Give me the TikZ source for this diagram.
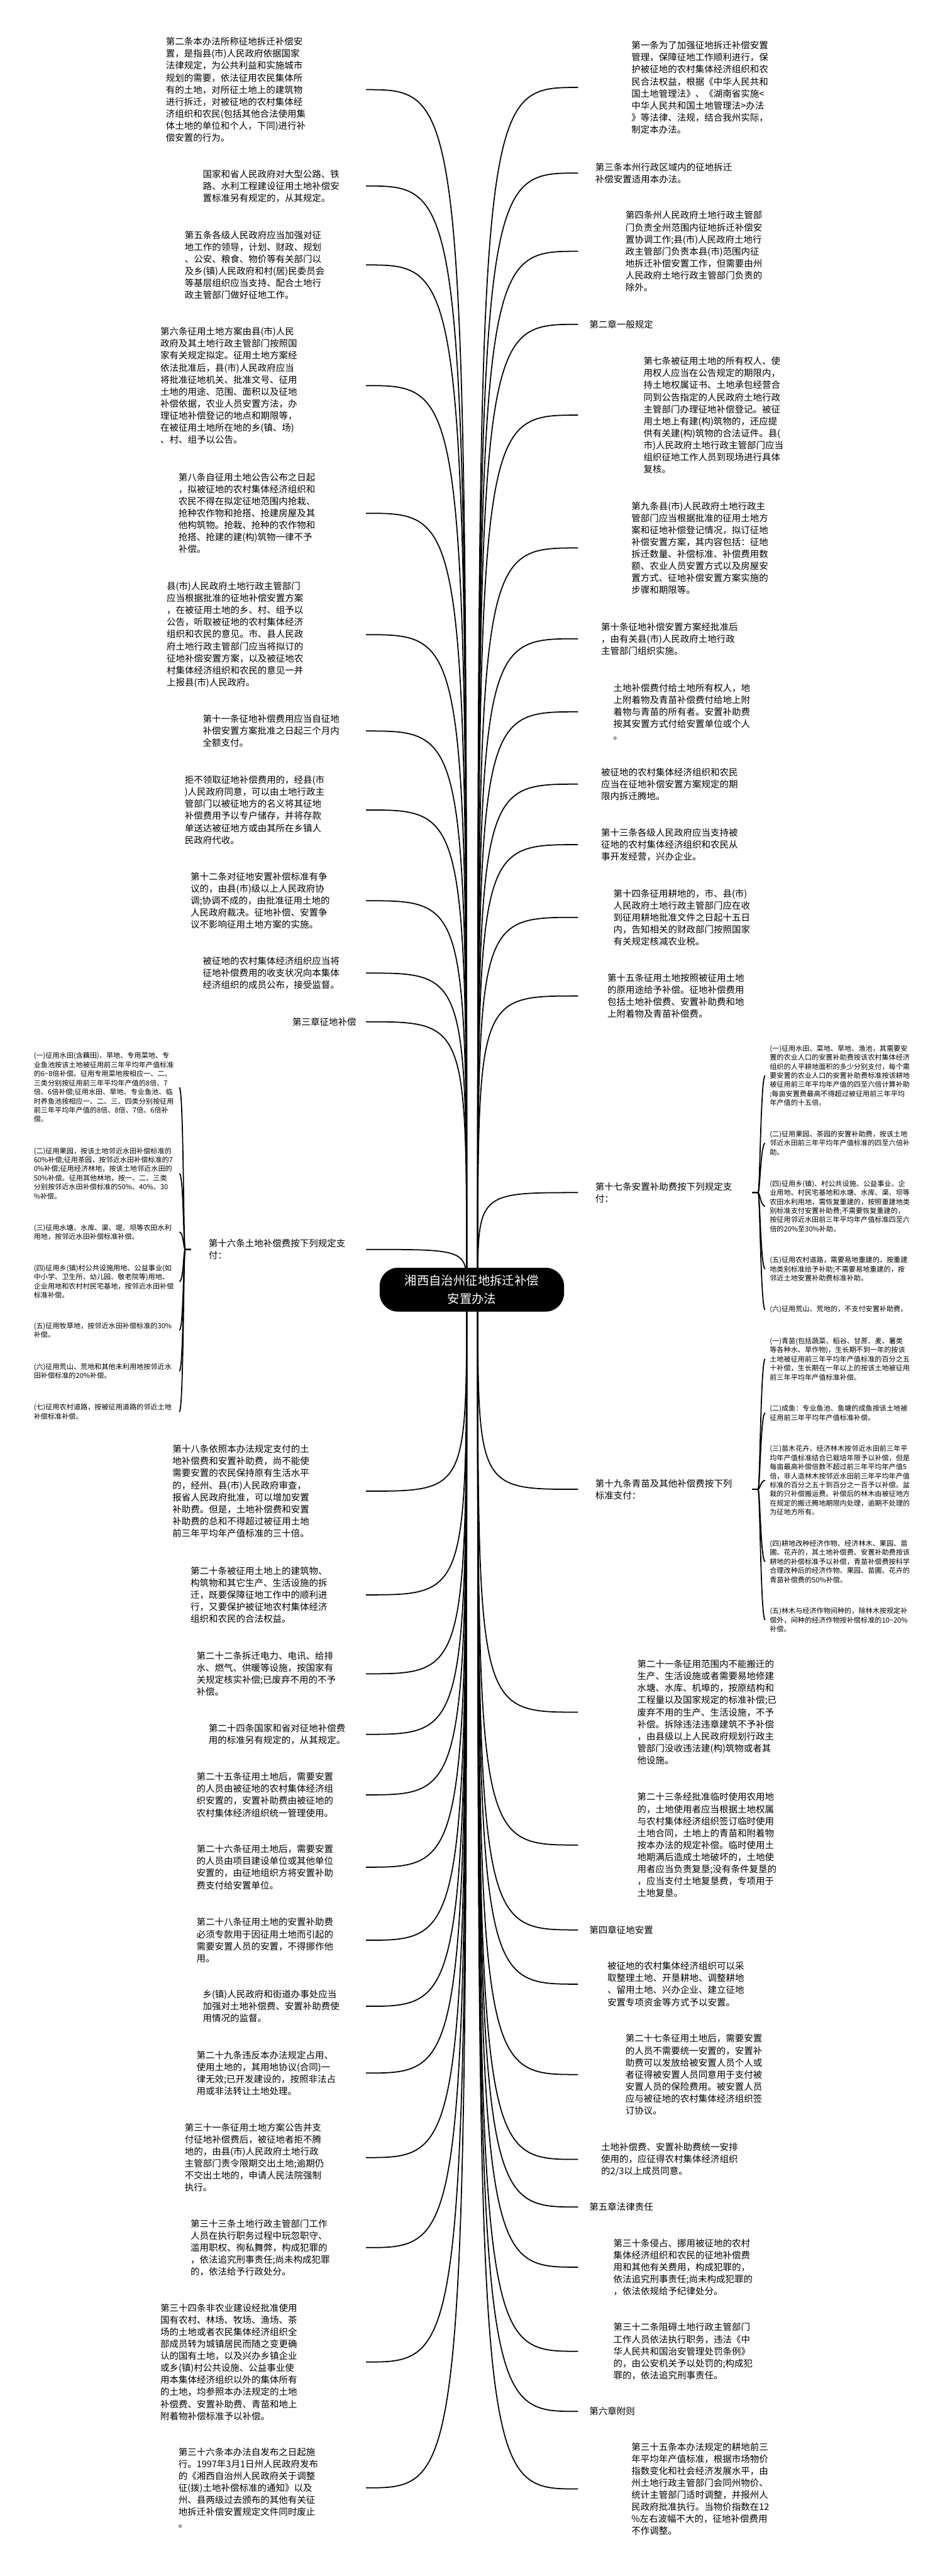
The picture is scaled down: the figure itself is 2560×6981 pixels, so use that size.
\documentclass[tikz,border=0pt]{standalone}
\usepackage{fontspec}
\setmainfont{Noto Sans CJK SC}
\usepackage{tikz}

\begin{document}
\begin{tikzpicture}[
  x=0.1mm,y=-0.1mm,
  leaf/.style={anchor=west,align=left,inner sep=0pt,
               font=\fontsize{7.03pt}{9.25pt}\selectfont},
  item/.style={anchor=west,align=left,inner sep=0pt,
               font=\fontsize{5.4pt}{7pt}\selectfont},
  root/.style={fill=black,text=white,rounded corners=5mm,align=center,
               minimum width=50mm,minimum height=11.9mm,inner sep=0pt,
               font=\fontsize{9.4pt}{13.66pt}\selectfont},
  link/.style={line width=0.3mm,black}
]
\path[use as bounding box,fill=white] (0,0) rectangle (2560,6981);

\coordinate (rl) at (1265,3495);
\coordinate (rr) at (1295,3495);
\coordinate (lend) at (992,0);
\coordinate (rend) at (1567,0);

% left branches
\node[leaf] (l1) at (449,243) {第二条本办法所称征地拆迁补偿安\\置，是指县(市)人民政府依据国家\\法律规定，为公共利益和实施城市\\规划的需要，依法征用农民集体所\\有的土地，对所征土地上的建筑物\\进行拆迁，对被征地的农村集体经\\济组织和农民(包括其他合法使用集\\体土地的单位和个人，下同)进行补\\偿安置的行为。};
\node[leaf] (l2) at (549,504) {国家和省人民政府对大型公路、铁\\路、水利工程建设征用土地补偿安\\置标准另有规定的，从其规定。};
\node[leaf] (l3) at (500,718) {第五条各级人民政府应当加强对征\\地工作的领导，计划、财政、规划\\、公安、粮食、物价等有关部门以\\及乡(镇)人民政府和村(居)民委员会\\等基层组织应当支持、配合土地行\\政主管部门做好征地工作。};
\node[leaf] (l4) at (434,1045) {第六条征用土地方案由县(市)人民\\政府及其土地行政主管部门按照国\\家有关规定拟定。征用土地方案经\\依法批准后，县(市)人民政府应当\\将批准征地机关、批准文号、征用\\土地的用途、范围、面积以及征地\\补偿依据，农业人员安置方法，办\\理征地补偿登记的地点和期限等，\\在被征用土地所在地的乡(镇、场)\\、村、组予以公告。};
\node[leaf] (l5) at (483,1391) {第八条自征用土地公告公布之日起\\，拟被征地的农村集体经济组织和\\农民不得在拟定征地范围内抢栽、\\抢种农作物和抢搭、抢建房屋及其\\他构筑物。抢栽、抢种的农作物和\\抢搭、抢建的建(构)筑物一律不予\\补偿。};
\node[leaf] (l6) at (451,1720) {县(市)人民政府土地行政主管部门\\应当根据批准的征地补偿安置方案\\，在被征用土地的乡、村、组予以\\公告，听取被征地的农村集体经济\\组织和农民的意见。市、县人民政\\府土地行政主管部门应当将拟订的\\征地补偿安置方案，以及被征地农\\村集体经济组织和农民的意见一并\\上报县(市)人民政府。};
\node[leaf] (l7) at (549,1981) {第十一条征地补偿费用应当自征地\\补偿安置方案批准之日起三个月内\\全额支付。};
\node[leaf] (l8) at (500,2195) {拒不领取征地补偿费用的，经县(市\\)人民政府同意，可以由土地行政主\\管部门以被征地方的名义将其征地\\补偿费用予以专户储存，并将存款\\单送达被征地方或由其所在乡镇人\\民政府代收。};
\node[leaf] (l9) at (516,2441) {第十二条对征地安置补偿标准有争\\议的，由县(市)级以上人民政府协\\调;协调不成的，由批准征用土地的\\人民政府裁决。征地补偿、安置争\\议不影响征用土地方案的实施。};
\node[leaf] (l10) at (549,2637) {被征地的农村集体经济组织应当将\\征地补偿费用的收支状况向本集体\\经济组织的成员公布，接受监督。};
\node[leaf] (l11) at (792,2769) {第三章征地补偿};
\node[leaf] (l12) at (565,3386) {第十六条土地补偿费按下列规定支\\付：};
\node[leaf] (l13) at (467,4041) {第十八条依照本办法规定支付的土\\地补偿费和安置补助费，尚不能使\\需要安置的农民保持原有生活水平\\的，经州、县(市)人民政府审查，\\报省人民政府批准，可以增加安置\\补助费。但是，土地补偿费和安置\\补助费的总和不得超过被征用土地\\前三年平均年产值标准的三十倍。};
\node[leaf] (l14) at (516,4322) {第二十条被征用土地上的建筑物、\\构筑物和其它生产、生活设施的拆\\迁，既要保障征地工作中的顺利进\\行，又要保护被征地农村集体经济\\组织和农民的合法权益。};
\node[leaf] (l15) at (532,4536) {第二十二条拆迁电力、电讯、给排\\水、燃气、供暖等设施，按国家有\\关规定核实补偿;已废弃不用的不予\\补偿。};
\node[leaf] (l16) at (565,4700) {第二十四条国家和省对征地补偿费\\用的标准另有规定的，从其规定。};
\node[leaf] (l17) at (532,4864) {第二十五条征用土地后，需要安置\\的人员由被征地的农村集体经济组\\织安置的，安置补助费由被征地的\\农村集体经济组织统一管理使用。};
\node[leaf] (l18) at (532,5060) {第二十六条征用土地后，需要安置\\的人员由项目建设单位或其他单位\\安置的，由征地组织方将安置补助\\费支付给安置单位。};
\node[leaf] (l19) at (532,5258) {第二十八条征用土地的安置补助费\\必须专款用于因征用土地而引起的\\需要安置人员的安置，不得挪作他\\用。};
\node[leaf] (l20) at (549,5437) {乡(镇)人民政府和街道办事处应当\\加强对土地补偿费、安置补助费使\\用情况的监督。};
\node[leaf] (l21) at (532,5618) {第二十九条违反本办法规定占用、\\使用土地的，其用地协议(合同)一\\律无效;已开发建设的，按照非法占\\用或非法转让土地处理。};
\node[leaf] (l22) at (500,5847) {第三十一条征用土地方案公告并支\\付征地补偿费后，被征地者拒不腾\\地的，由县(市)人民政府土地行政\\主管部门责令限期交出土地;逾期仍\\不交出土地的，申请人民法院强制\\执行。};
\node[leaf] (l23) at (516,6091) {第三十三条土地行政主管部门工作\\人员在执行职务过程中玩忽职守、\\滥用职权、徇私舞弊，构成犯罪的\\，依法追究刑事责任;尚未构成犯罪\\的，依法给予行政处分。};
\node[leaf] (l24) at (434,6401) {第三十四条非农业建设经批准使用\\国有农村、林场、牧场、渔场、茶\\场的土地或者农民集体经济组织全\\部成员转为城镇居民而随之变更确\\认的国有土地，以及兴办乡镇企业\\或乡(镇)村公共设施、公益事业使\\用本集体经济组织以外的集体所有\\的土地，均参照本办法规定的土地\\补偿费、安置补助费、青苗和地上\\附着物补偿标准予以补偿。};
\node[leaf] (l25) at (483,6742) {第三十六条本办法自发布之日起施\\行。1997年3月1日州人民政府发布\\的《湘西自治州人民政府关于调整\\征(拨)土地补偿标准的通知》以及\\州、县两级过去颁布的其他有关征\\地拆迁补偿安置规定文件同时废止\\。};

% items of article 16
\node[item] (a1) at (91,2947) {(一)征用水田(含藕田)、旱地、专用菜地、专\\业鱼池按该土地被征用前三年平均年产值标准\\的6\textasciitilde8倍补偿。征用专用菜地按相应一、二、\\三类分别按征用前三年平均年产值的8倍、7\\倍、6倍补偿;征用水田、旱地、专业鱼池、临\\时养鱼池按相应一、二、三、四类分别按征用\\前三年平均年产值的8倍、8倍、7倍、6倍补\\偿。};
\node[item] (a2) at (91,3180) {(二)征用果园，按该土地邻近水田补偿标准的\\60\%补偿;征用茶园，按邻近水田补偿标准的7\\0\%补偿;征用经济林地，按该土地邻近水田的\\50\%补偿。征用其他林地，按一、二、三类\\分别按邻近水田补偿标准的50\%、40\%、30\\\%补偿。};
\node[item] (a3) at (91,3339) {(三)征用水塘、水库、渠、堤、坝等农田水利\\用地，按邻近水田补偿标准补偿。};
\node[item] (a4) at (91,3473) {(四)征用乡(镇)村公共设施用地、公益事业(如\\中小学、卫生所、幼儿园、敬老院等)用地、\\企业用地和农村村民宅基地，按邻近水田补偿\\标准补偿。};
\node[item] (a5) at (91,3605) {(五)征用牧草地，按邻近水田补偿标准的30\%\\补偿。};
\node[item] (a6) at (91,3716) {(六)征用荒山、荒地和其他未利用地按邻近水\\田补偿标准的20\%补偿。};
\node[item] (a7) at (91,3826) {(七)征用农村道路，按被征用道路的邻近土地\\补偿标准补偿。};

% right branches
\node[leaf] (r1) at (1711,237) {第一条为了加强征地拆迁补偿安置\\管理，保障征地工作顺利进行，保\\护被征地的农村集体经济组织和农\\民合法权益，根据《中华人民共和\\国土地管理法》、《湖南省实施<\\中华人民共和国土地管理法>办法\\》等法律、法规，结合我州实际，\\制定本办法。};
\node[leaf] (r2) at (1613,469) {第三条本州行政区域内的征地拆迁\\补偿安置适用本办法。};
\node[leaf] (r3) at (1695,681) {第四条州人民政府土地行政主管部\\门负责全州范围内征地拆迁补偿安\\置协调工作;县(市)人民政府土地行\\政主管部门负责本县(市)范围内征\\地拆迁补偿安置工作，但需要由州\\人民政府土地行政主管部门负责的\\除外。};
\node[leaf] (r4) at (1597,879) {第二章一般规定};
\node[leaf] (r5) at (1744,1125) {第七条被征用土地的所有权人、使\\用权人应当在公告规定的期限内，\\持土地权属证书、土地承包经营合\\同到公告指定的人民政府土地行政\\主管部门办理征地补偿登记。被征\\用土地上有建(构)筑物的，还应提\\供有关建(构)筑物的合法证件。县(\\市)人民政府土地行政主管部门应当\\组织征地工作人员到现场进行具体\\复核。};
\node[leaf] (r6) at (1711,1485) {第九条县(市)人民政府土地行政主\\管部门应当根据批准的征用土地方\\案和征地补偿登记情况，拟订征地\\补偿安置方案，其内容包括：征地\\拆迁数量、补偿标准、补偿费用数\\额、农业人员安置方式以及房屋安\\置方式、征地补偿安置方案实施的\\步骤和期限等。};
\node[leaf] (r7) at (1629,1731) {第十条征地补偿安置方案经批准后\\，由有关县(市)人民政府土地行政\\主管部门组织实施。};
\node[leaf] (r8) at (1662,1929) {土地补偿费付给土地所有权人，地\\上附着物及青苗补偿费付给地上附\\着物与青苗的所有者。安置补助费\\按其安置方式付给安置单位或个人\\。};
\node[leaf] (r9) at (1629,2125) {被征地的农村集体经济组织和农民\\应当在征地补偿安置方案规定的期\\限内拆迁腾地。};
\node[leaf] (r10) at (1629,2289) {第十三条各级人民政府应当支持被\\征地的农村集体经济组织和农民从\\事开发经营，兴办企业。};
\node[leaf] (r11) at (1662,2486) {第十四条征用耕地的，市、县(市)\\人民政府土地行政主管部门应在收\\到征用耕地批准文件之日起十五日\\内，告知相关的财政部门按照国家\\有关规定核减农业税。};
\node[leaf] (r12) at (1646,2699) {第十五条征用土地按照被征用土地\\的原用途给予补偿。征地补偿费用\\包括土地补偿费、安置补助费和地\\上附着物及青苗补偿费。};
\node[leaf] (r13) at (1613,3232) {第十七条安置补助费按下列规定支\\付：};
\node[leaf] (r14) at (1613,4036) {第十九条青苗及其他补偿费按下列\\标准支付：};
\node[leaf] (r15) at (1727,4640) {第二十一条征用范围内不能搬迁的\\生产、生活设施或者需要易地修建\\水塘、水库、机埠的，按原结构和\\工程量以及国家规定的标准补偿;已\\废弃不用的生产、生活设施，不予\\补偿。拆除违法违章建筑不予补偿\\，由县级以上人民政府规划行政主\\管部门没收违法建(构)筑物或者其\\他设施。};
\node[leaf] (r16) at (1727,5000) {第二十三条经批准临时使用农用地\\的，土地使用者应当根据土地权属\\与农村集体经济组织签订临时使用\\土地合同，土地上的青苗和附着物\\按本办法的规定补偿。临时使用土\\地期满后造成土地破坏的，土地使\\用者应当负责复垦;没有条件复垦的\\，应当支付土地复垦费，专项用于\\土地复垦。};
\node[leaf] (r17) at (1597,5230) {第四章征地安置};
\node[leaf] (r18) at (1646,5377) {被征地的农村集体经济组织可以采\\取整理土地、开垦耕地、调整耕地\\、留用土地、兴办企业、建立征地\\安置专项资金等方式予以安置。};
\node[leaf] (r19) at (1695,5622) {第二十七条征用土地后，需要安置\\的人员不需要统一安置的，安置补\\助费可以发放给被安置人员个人或\\者征得被安置人员同意用于支付被\\安置人员的保险费用。被安置人员\\应与被征地的农村集体经济组织签\\订协议。};
\node[leaf] (r20) at (1629,5852) {土地补偿费、安置补助费统一安排\\使用的，应征得农村集体经济组织\\的2/3以上成员同意。};
\node[leaf] (r21) at (1597,5981) {第五章法律责任};
\node[leaf] (r22) at (1662,6144) {第三十条侵占、挪用被征地的农村\\集体经济组织和农民的征地补偿费\\用和其他有关费用，构成犯罪的，\\依法追究刑事责任;尚未构成犯罪的\\，依法依规给予纪律处分。};
\node[leaf] (r23) at (1662,6372) {第三十二条阻碍土地行政主管部门\\工作人员依法执行职务，违法《中\\华人民共和国治安管理处罚条例》\\的，由公安机关予以处罚的;构成犯\\罪的，依法追究刑事责任。};
\node[leaf] (r24) at (1597,6535) {第六章附则};
\node[leaf] (r25) at (1711,6745) {第三十五条本办法规定的耕地前三\\年平均年产值标准，根据市场物价\\指数变化和社会经济发展水平，由\\州土地行政主管部门会同州物价、\\统计主管部门适时调整，并报州人\\民政府批准执行。当物价指数在12\\\%左右波幅不大的，征地补偿费用\\不作调整。};

% items of articles 17 and 19
\node[item] (b1) at (2086,2915) {(一)征用水田、菜地、旱地、渔池，其需要安\\置的农业人口的安置补助费按该农村集体经济\\组织的人平耕地面积的多少分别支付，每个需\\要安置的农业人口的安置补助费标准按该耕地\\被征用前三年平均年产值的四至六倍计算补助\\;每亩安置费最高不得超过被征用前三年平均\\年产值的十五倍。};
\node[item] (b2) at (2086,3098) {(二)征用果园、茶园的安置补助费，按该土地\\邻近水田前三年平均年产值标准的四至六倍补\\助。};
\node[item] (b3) at (2086,3269) {(四)征用乡(镇)、村公共设施、公益事业、企\\业用地、村民宅基地和水塘、水库、渠、坝等\\农田水利用地，需恢复重建的，按照重建地类\\别标准支付安置补助费;不需要恢复重建的，\\按征用邻近水田前三年平均年产值标准四至六\\倍的20\%至30\%补助。};
\node[item] (b4) at (2086,3439) {(五)征用农村道路，需要易地重建的，按重建\\地类别标准给予补助;不需要易地重建的，按\\邻近土地安置补助费标准补助。};
\node[item] (b5) at (2086,3549) {(六)征用荒山、荒地的，不支付安置补助费。};
\node[item] (c1) at (2086,3683) {(一)青苗(包括蔬菜、稻谷、甘蔗、麦、薯类\\等各种水、旱作物)，生长期不到一年的按该\\土地被征用前三年平均年产值标准的百分之五\\十补偿，生长期在一年以上的按该土地被征用\\前三年平均年产值标准补偿。};
\node[item] (c2) at (2086,3829) {(二)成鱼：专业鱼池、鱼塘的成鱼按该土地被\\征用前三年平均年产值标准补偿。};
\node[item] (c3) at (2086,4012) {(三)苗木花卉、经济林木按邻近水田前三年平\\均年产值标准结合已栽培年限予以补偿，但是\\每亩最高补偿倍数不超过前三年平均年产值5\\倍，非人造林木按邻近水田前三年平均年产值\\标准的百分之五十到百分之一百予以补偿。盆\\栽的只补偿搬运费。补偿后的林木由被征地方\\在规定的搬迁腾地期限内处理，逾期不处理的\\为征地方所有。};
\node[item] (c4) at (2086,4232) {(四)耕地改种经济作物、经济林木、果园、苗\\圃、花卉的，其土地补偿费、安置补助费按该\\耕地的补偿标准予以补偿，青苗补偿费按科学\\合理改种后的经济作物、果园、苗圃、花卉的\\青苗补偿费的50\%补偿。};
\node[item] (c5) at (2086,4390) {(五)林木与经济作物间种的，除林木按规定补\\偿外，间种的经济作物按补偿标准的10\textasciitilde20\%\\补偿。};

% connectors from the root
\draw[link] (rl) .. controls (rl |- l1) .. (lend |- l1);
\draw[link] (rl) .. controls (rl |- l2) .. (lend |- l2);
\draw[link] (rl) .. controls (rl |- l3) .. (lend |- l3);
\draw[link] (rl) .. controls (rl |- l4) .. (lend |- l4);
\draw[link] (rl) .. controls (rl |- l5) .. (lend |- l5);
\draw[link] (rl) .. controls (rl |- l6) .. (lend |- l6);
\draw[link] (rl) .. controls (rl |- l7) .. (lend |- l7);
\draw[link] (rl) .. controls (rl |- l8) .. (lend |- l8);
\draw[link] (rl) .. controls (rl |- l9) .. (lend |- l9);
\draw[link] (rl) .. controls (rl |- l10) .. (lend |- l10);
\draw[link] (rl) .. controls (rl |- l11) .. (lend |- l11);
\draw[link] (rl) .. controls (rl |- l12) .. (lend |- l12);
\draw[link] (rl) .. controls (rl |- l13) .. (lend |- l13);
\draw[link] (rl) .. controls (rl |- l14) .. (lend |- l14);
\draw[link] (rl) .. controls (rl |- l15) .. (lend |- l15);
\draw[link] (rl) .. controls (rl |- l16) .. (lend |- l16);
\draw[link] (rl) .. controls (rl |- l17) .. (lend |- l17);
\draw[link] (rl) .. controls (rl |- l18) .. (lend |- l18);
\draw[link] (rl) .. controls (rl |- l19) .. (lend |- l19);
\draw[link] (rl) .. controls (rl |- l20) .. (lend |- l20);
\draw[link] (rl) .. controls (rl |- l21) .. (lend |- l21);
\draw[link] (rl) .. controls (rl |- l22) .. (lend |- l22);
\draw[link] (rl) .. controls (rl |- l23) .. (lend |- l23);
\draw[link] (rl) .. controls (rl |- l24) .. (lend |- l24);
\draw[link] (rl) .. controls (rl |- l25) .. (lend |- l25);

\draw[link] (rr) .. controls (rr |- r1) .. (rend |- r1);
\draw[link] (rr) .. controls (rr |- r2) .. (rend |- r2);
\draw[link] (rr) .. controls (rr |- r3) .. (rend |- r3);
\draw[link] (rr) .. controls (rr |- r4) .. (rend |- r4);
\draw[link] (rr) .. controls (rr |- r5) .. (rend |- r5);
\draw[link] (rr) .. controls (rr |- r6) .. (rend |- r6);
\draw[link] (rr) .. controls (rr |- r7) .. (rend |- r7);
\draw[link] (rr) .. controls (rr |- r8) .. (rend |- r8);
\draw[link] (rr) .. controls (rr |- r9) .. (rend |- r9);
\draw[link] (rr) .. controls (rr |- r10) .. (rend |- r10);
\draw[link] (rr) .. controls (rr |- r11) .. (rend |- r11);
\draw[link] (rr) .. controls (rr |- r12) .. (rend |- r12);
\draw[link] (rr) .. controls (rr |- r13) .. (rend |- r13);
\draw[link] (rr) .. controls (rr |- r14) .. (rend |- r14);
\draw[link] (rr) .. controls (rr |- r15) .. (rend |- r15);
\draw[link] (rr) .. controls (rr |- r16) .. (rend |- r16);
\draw[link] (rr) .. controls (rr |- r17) .. (rend |- r17);
\draw[link] (rr) .. controls (rr |- r18) .. (rend |- r18);
\draw[link] (rr) .. controls (rr |- r19) .. (rend |- r19);
\draw[link] (rr) .. controls (rr |- r20) .. (rend |- r20);
\draw[link] (rr) .. controls (rr |- r21) .. (rend |- r21);
\draw[link] (rr) .. controls (rr |- r22) .. (rend |- r22);
\draw[link] (rr) .. controls (rr |- r23) .. (rend |- r23);
\draw[link] (rr) .. controls (rr |- r24) .. (rend |- r24);
\draw[link] (rr) .. controls (rr |- r25) .. (rend |- r25);

% brackets to the items
\coordinate (t16) at (518,3386);
\coordinate (t16b) at (502,3386);
\coordinate (hl) at (486,0);
\draw[link] (t16) -- (t16b) .. controls +(-5,0) and +(12,0) .. (hl |- a1);
\draw[link] (t16) -- (t16b) .. controls +(-5,0) and +(12,0) .. (hl |- a2);
\draw[link] (t16) -- (t16b) .. controls +(-5,0) and +(12,0) .. (hl |- a3);
\draw[link] (t16) -- (t16b) .. controls +(-5,0) and +(12,0) .. (hl |- a4);
\draw[link] (t16) -- (t16b) .. controls +(-5,0) and +(12,0) .. (hl |- a5);
\draw[link] (t16) -- (t16b) .. controls +(-5,0) and +(12,0) .. (hl |- a6);
\draw[link] (t16) -- (t16b) .. controls +(-5,0) and +(12,0) .. (hl |- a7);

\coordinate (t17) at (2039,3232);
\coordinate (t17b) at (2055,3232);
\coordinate (t19) at (2039,4036);
\coordinate (t19b) at (2055,4036);
\coordinate (hr) at (2074,0);
\draw[link] (t17) -- (t17b) .. controls +(5,0) and +(-12,0) .. (hr |- b1);
\draw[link] (t17) -- (t17b) .. controls +(5,0) and +(-12,0) .. (hr |- b2);
\draw[link] (t17) -- (t17b) .. controls +(5,0) and +(-12,0) .. (hr |- b3);
\draw[link] (t17) -- (t17b) .. controls +(5,0) and +(-12,0) .. (hr |- b4);
\draw[link] (t17) -- (t17b) .. controls +(5,0) and +(-12,0) .. (hr |- b5);
\draw[link] (t19) -- (t19b) .. controls +(5,0) and +(-12,0) .. (hr |- c1);
\draw[link] (t19) -- (t19b) .. controls +(5,0) and +(-12,0) .. (hr |- c2);
\draw[link] (t19) -- (t19b) .. controls +(5,0) and +(-12,0) .. (hr |- c3);
\draw[link] (t19) -- (t19b) .. controls +(5,0) and +(-12,0) .. (hr |- c4);
\draw[link] (t19) -- (t19b) .. controls +(5,0) and +(-12,0) .. (hr |- c5);

\node[root] (root) at (1279,3495) {湘西自治州征地拆迁补偿\\安置办法};
\end{tikzpicture}
\end{document}
